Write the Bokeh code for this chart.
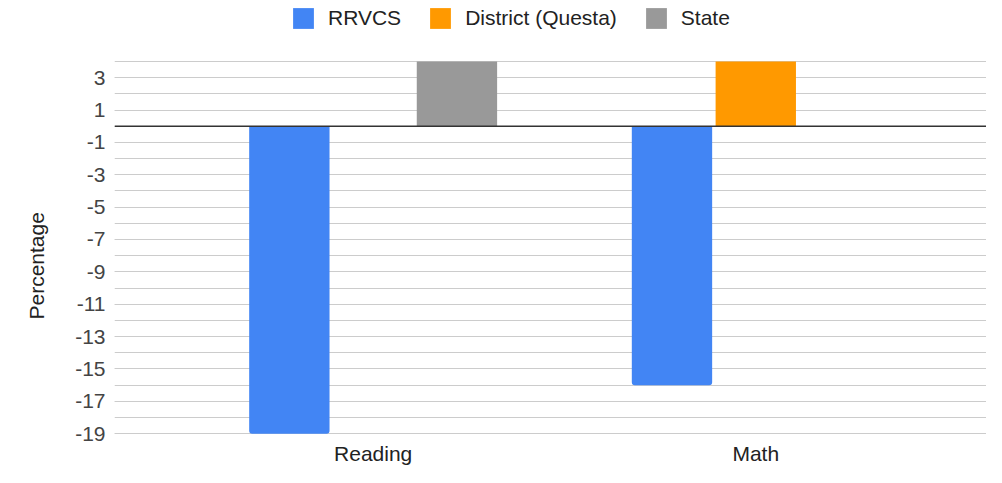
from bokeh.plotting import figure
from bokeh.models import Range1d, FixedTicker, Span, Legend, LegendItem, ColumnDataSource, Title
from bokeh.transform import dodge
from bokeh.embed import file_html
from bokeh.resources import INLINE

# ---- data ----
categories = ["Reading", "Math"]
series_names = ["RRVCS", "District (Questa)", "State"]
rrvcs = [-19, -16]
district = [0, 4]
state = [4, 0]
y_tick_labels = list(range(-19, 4, 2))
y_grid_values = list(range(-19, 5))
y_title = "Percentage"

colors = ["#4285F4", "#FF9900", "#999999"]
FONT = "Liberation Sans"

W, H = 986, 467
BORDER_L, BORDER_B = 113, 32
FRAME_H = H - BORDER_B
PPU = 16.22
Y0 = -19.05
Y1 = Y0 + FRAME_H / PPU

p = figure(width=W, height=H, output_backend="svg", toolbar_location=None,
           x_range=Range1d(-0.676, 1.603), y_range=Range1d(Y0, Y1),
           min_border_left=BORDER_L, min_border_right=0, min_border_top=0,
           min_border_bottom=BORDER_B)
p.outline_line_color = None
p.background_fill_color = "white"

src = ColumnDataSource(dict(x=list(range(len(categories))),
                            rrvcs=rrvcs, district=district, state=state))
fields = ["rrvcs", "district", "state"]
offsets = [-0.219, 0.0, 0.219]
radii = [(0, 0, 3, 3), 0, 0]
renderers = []
for f, off, c, rad in zip(fields, offsets, colors, radii):
    r = p.vbar(x=dodge("x", off), top=f, bottom=0, width=0.21, source=src,
               fill_color=c, line_color=None, border_radius=rad)
    renderers.append(r)

# zero line
p.add_layout(Span(location=0, dimension="width", line_color="#333333", line_width=1.6))

# y axis
yax = p.yaxis[0]
yax.ticker = FixedTicker(ticks=y_tick_labels, minor_ticks=y_grid_values)
yax.major_label_overrides = {v: str(v) for v in y_tick_labels}
yax.axis_line_color = None
yax.major_tick_out = 0
yax.major_tick_in = 0
yax.minor_tick_out = 0
yax.minor_tick_in = 0
yax.major_label_standoff = 9
yax.major_label_text_font = FONT
yax.major_label_text_font_size = "21px"
yax.major_label_text_color = "#444444"

# y-axis title as a side title (lets it sit lower than the frame centre)
p.add_layout(Title(text=y_title, align="left", offset=115, vertical_align="middle",
                   standoff=47, text_font=FONT, text_font_size="21px",
                   text_font_style="normal", text_color="#222222"), "left")

p.ygrid.grid_line_color = "#cccccc"
p.ygrid.grid_line_width = 1.2
p.ygrid.minor_grid_line_color = "#cccccc"
p.ygrid.minor_grid_line_width = 1.2
p.xgrid.grid_line_color = None

# x axis
xax = p.xaxis[0]
xax.ticker = FixedTicker(ticks=list(range(len(categories))))
xax.major_label_overrides = {i: c for i, c in enumerate(categories)}
xax.axis_line_color = None
xax.major_tick_out = 0
xax.major_tick_in = 0
xax.minor_tick_out = 0
xax.minor_tick_in = 0
xax.major_label_standoff = 7
xax.major_label_text_font = FONT
xax.major_label_text_font_size = "21px"
xax.major_label_text_color = "#222222"

legend = Legend(items=[LegendItem(label=n, renderers=[r]) for n, r in zip(series_names, renderers)],
                orientation="horizontal", location=(176, FRAME_H - 31.5),
                padding=0, margin=0, spacing=26, label_standoff=12,
                glyph_width=26, glyph_height=26, label_height=21,
                border_line_color=None, background_fill_alpha=0,
                label_text_font=FONT, label_text_font_size="21px",
                label_text_color="#222222")
p.add_layout(legend, "center")

open("out.html", "w").write(file_html(p, INLINE))
